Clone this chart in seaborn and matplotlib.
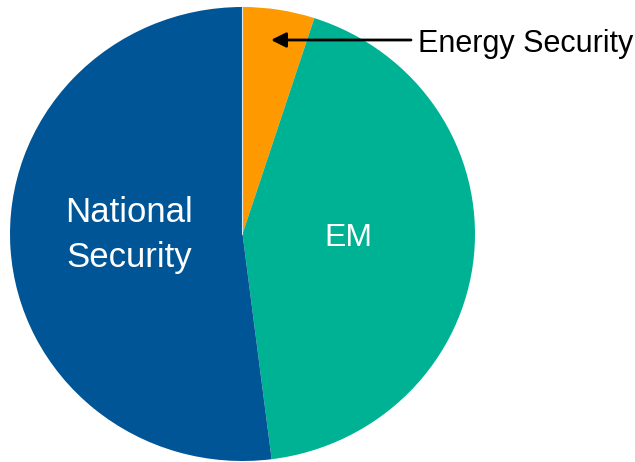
import matplotlib
matplotlib.use("Agg")
import matplotlib.pyplot as plt
import seaborn as sns
from matplotlib import font_manager

categories = ["Energy Security", "EM", "National Security"]
values = [5, 43, 52]
colors = ["#FF9900", "#00B294", "#005596"]

sns.set_style("white")
names = {f.name for f in font_manager.fontManager.ttflist}
fam = "Liberation Sans Narrow" if "Liberation Sans Narrow" in names else "Liberation Sans"
plt.rcParams["font.family"] = [fam, "DejaVu Sans"]

W, H = 635, 462
cx, cy, rx, ry = 242.5, 234.0, 232.5, 227.0

fig = plt.figure(figsize=(W / 100, H / 100), dpi=100)
ax = fig.add_axes([0, 0, 1, 1])


def px(x, y):
    return (x - cx) / rx, (cy - y) / ry


wedges, _ = ax.pie(values, colors=colors, startangle=90, counterclock=False,
                   radius=1.0, center=(0, 0),
                   wedgeprops=dict(edgecolor="none", linewidth=0))
ax.set_xlim((0 - cx) / rx, (W - cx) / rx)
ax.set_ylim(-(H - cy) / ry, cy / ry)
ax.set_aspect("auto")
ax.axis("off")
# thin light divider at the top between blue and orange
ax.plot([0, 0], [0, 1], color="#dce6ee", lw=0.8, zorder=3)

ax.text(*px(129, 235), "National\nSecurity", color="white", fontsize=25,
        ha="center", va="center", linespacing=1.45)
ax.text(*px(348, 238), categories[1], color="white", fontsize=23,
        ha="center", va="center")
ax.text(*px(418, 44), categories[0], color="black", fontsize=22,
        ha="left", va="center")
ax.annotate("", xy=px(271, 40), xytext=px(411, 40),
            arrowprops=dict(arrowstyle="-|>,head_length=0.9,head_width=0.45",
                            color="black", lw=2, shrinkA=0, shrinkB=0))

fig.savefig("out.png", dpi=100)
